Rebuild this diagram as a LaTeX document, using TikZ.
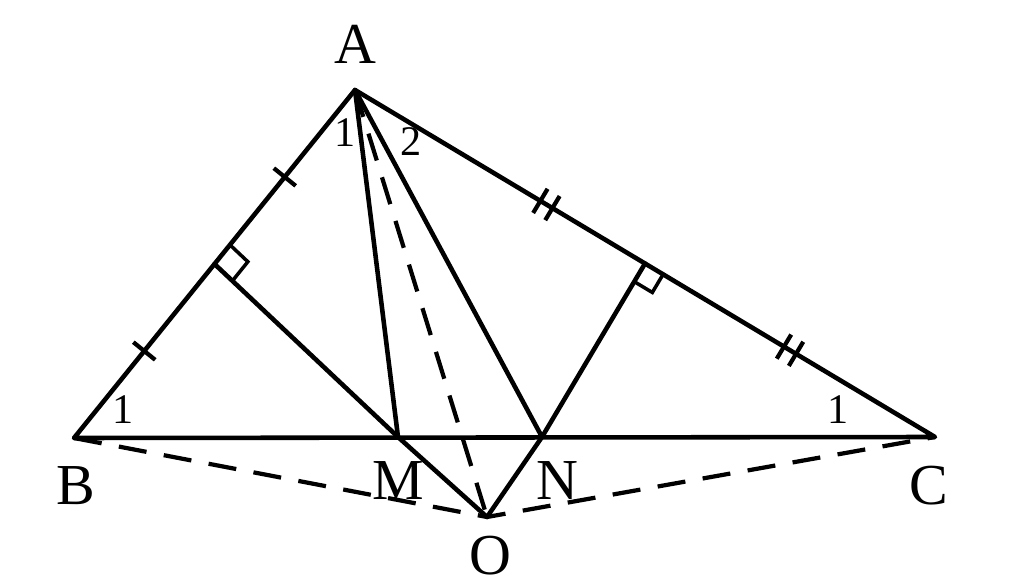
\documentclass[tikz,border=0pt]{standalone}
\usepackage{fontspec}
\setmainfont{Liberation Serif}
\usetikzlibrary{calc}
\begin{document}
\begin{tikzpicture}[x=0.02cm,y=-0.02cm,
  seg/.style={line width=2.6pt,line cap=round,line join=round},
  dseg/.style={line width=2.4pt,dash pattern=on 16pt off 10pt},
  lbl/.style={font=\fontsize{33}{33}\selectfont,inner sep=0pt},
  num/.style={font=\fontsize{24}{24}\selectfont,inner sep=0pt},
  tick/.style={line width=2.4pt}]
\useasboundingbox (0,0) rectangle (1024,587);
\coordinate (A) at (355,90);
\coordinate (B) at (74,438);
\coordinate (C) at (935,437);
\coordinate (M) at (398,437);
\coordinate (N) at (542,437);
\coordinate (O) at (487,517);
\coordinate (P) at ($(A)!0.5!(B)$);
\coordinate (Q) at ($(A)!0.5!(C)$);
% triangle
\draw[seg] (A) -- (B) -- (C) -- cycle;
\draw[seg] (A) -- (M);
\draw[seg] (A) -- (N);
\draw[seg] (P) -- (M) -- (O) -- (N) -- (Q);
% dashed
\draw[dseg] (B) -- (O) -- (C);
\draw[dseg] (A) -- (O);
% right angle marks
\coordinate (Pa) at ($(P)!14pt!(A)$);
\coordinate (Pm) at ($(P)!14pt!(M)$);
\coordinate (Pc) at ($(Pa)+(Pm)-(P)$);
\draw[line width=2pt] (Pa) -- (Pc) -- (Pm);
\coordinate (Qc0) at ($(Q)!12pt!(C)$);
\coordinate (Qn) at ($(Q)!12pt!(N)$);
\coordinate (Qc) at ($(Qc0)+(Qn)-(Q)$);
\draw[line width=2pt] (Qc0) -- (Qc) -- (Qn);
% single ticks on AB
\foreach \t in {0.25,0.75} {
  \draw[tick] ($($(A)!\t!(B)$)!8pt!90:(B)$) -- ($($(A)!\t!(B)$)!8pt!-90:(B)$);
}
% double ticks on AC
\foreach \t in {0.33,0.75} {
  \draw[tick] ($($(A)!\t!(C)$)!4pt!(C)$) -- ($($($(A)!\t!(C)$)!4pt!(C)$)!8pt!90:(C)$);
  \draw[tick] ($($(A)!\t!(C)$)!4pt!(C)$) -- ($($($(A)!\t!(C)$)!4pt!(C)$)!8pt!-90:(C)$);
  \draw[tick] ($($(A)!\t!(C)$)!-4pt!(C)$) -- ($($($(A)!\t!(C)$)!-4pt!(C)$)!8pt!90:(C)$);
  \draw[tick] ($($(A)!\t!(C)$)!-4pt!(C)$) -- ($($($(A)!\t!(C)$)!-4pt!(C)$)!8pt!-90:(C)$);
}
% labels
\node[lbl] (lA) at (355,44) {A};
\node[lbl] (lB) at (76,486) {B};
\node[lbl] (lM) at (398,481) {M};
\node[lbl] (lN) at (557,481) {N};
\node[lbl] (lC) at (929,486) {C};
\node[lbl] (lO) at (490,556) {O};
\node[num] (a1) at (345,133) {1};
\node[num] (a2) at (411,142) {2};
\node[num] (b1) at (123,410) {1};
\node[num] (c1) at (838,410) {1};
\end{tikzpicture}
\end{document}
